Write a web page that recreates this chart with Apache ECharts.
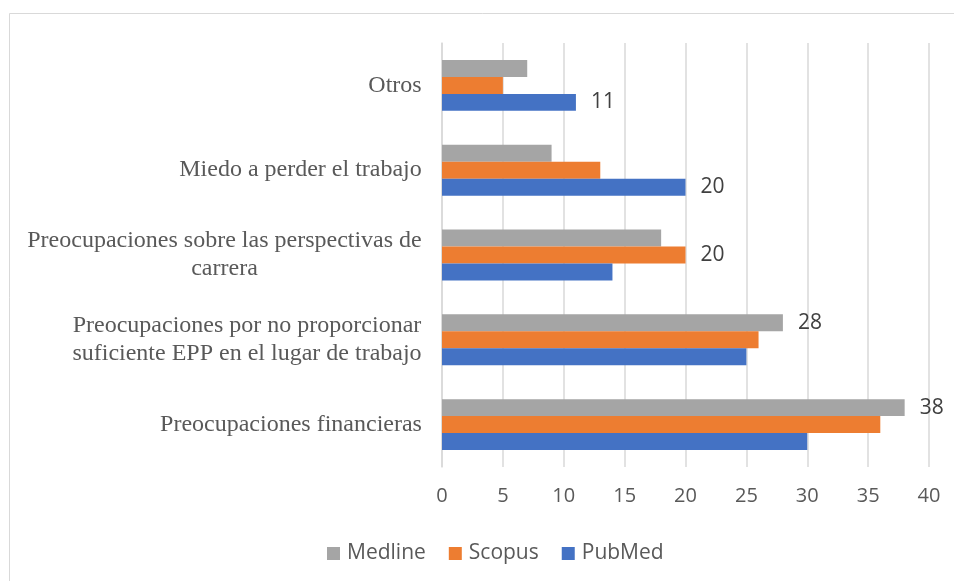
<!DOCTYPE html>
<html>
<head>
<meta charset="utf-8">
<script src="https://cdn.jsdelivr.net/npm/echarts@6/dist/echarts.min.js"></script>
<style>
html,body{margin:0;padding:0;background:#fff;}
#chart{width:954px;height:581px;}
</style>
</head>
<body>
<div id="chart"></div>
<script>
const categories = [
  'Otros',
  'Miedo a perder el trabajo',
  'Preocupaciones sobre las perspectivas de carrera',
  'Preocupaciones por no proporcionar suficiente EPP en el lugar de trabajo',
  'Preocupaciones financieras'
];
const medline = [7, 9, 18, 28, 38];
const scopus  = [5, 13, 20, 26, 36];
const pubmed  = [11, 20, 14, 25, 30];
const seriesNames = ['Medline', 'Scopus', 'PubMed'];
const xTicks = [0, 5, 10, 15, 20, 25, 30, 35, 40];

const seriesValues = [medline, scopus, pubmed];
const colors = ['#a5a5a5', '#ed7d31', '#4472c4'];

const catFont = '24px "Liberation Serif"';
const ctx = document.createElement('canvas').getContext('2d');
ctx.font = catFont;
function wrap(text, maxW) {
  const words = text.split(' ');
  const lines = [];
  let cur = '';
  words.forEach(w => {
    const t = cur ? cur + ' ' + w : w;
    if (ctx.measureText(t).width > maxW && cur) { lines.push(cur); cur = w; }
    else cur = t;
  });
  if (cur) lines.push(cur);
  return lines;
}
function blockWidth(value) {
  const lines = wrap(value, 400);
  return { lines: lines, w: Math.ceil(Math.max.apply(null, lines.map(l => ctx.measureText(l).width))) };
}
function catFormatter(value) {
  const b = blockWidth(value);
  return b.lines.map(l => '{c' + b.w + '|' + l + '}').join('\n');
}
const rich = {};
categories.forEach(c => {
  const b = blockWidth(c);
  rich['c' + b.w] = {
    width: b.w, align: 'center',
    fontFamily: 'Liberation Serif', fontSize: 24, lineHeight: 28, color: '#595959'
  };
});

const series = seriesNames.map((name, si) => ({
  name: name,
  type: 'bar',
  barGap: '0%',
  barCategoryGap: '40%',
  itemStyle: { color: colors[si] },
  data: seriesValues[si].map((v, ci) => {
    const mx = Math.max(medline[ci], scopus[ci], pubmed[ci]);
    return {
      value: v,
      label: {
        show: v === mx && seriesValues.findIndex(arr => arr[ci] === mx) === si,
        position: 'right',
        distance: 15,
        fontFamily: 'Open Sans',
        fontSize: 21,
        color: '#404040'
      }
    };
  })
}));

const chart = echarts.init(document.getElementById('chart'));
chart.setOption({
  animation: false,
  backgroundColor: '#fff',
  graphic: [{
    type: 'rect',
    shape: { x: 9.5, y: 13.5, width: 1000, height: 1000 },
    style: { fill: 'none', stroke: '#d9d9d9', lineWidth: 1 },
    silent: true
  }],
  legend: {
    data: seriesNames,
    left: 322,
    top: 538,
    icon: 'rect',
    itemWidth: 13,
    itemHeight: 13,
    itemGap: 23,
    textStyle: { fontFamily: 'Open Sans', fontSize: 21, color: '#595959', padding: [0, 0, 0, 2] }
  },
  grid: { left: 442, right: 25, top: 43, bottom: 114 },
  xAxis: {
    type: 'value',
    min: xTicks[0],
    max: xTicks[xTicks.length - 1],
    interval: xTicks[1] - xTicks[0],
    axisLine: { show: false },
    axisTick: { show: false },
    splitLine: { lineStyle: { color: '#d9d9d9', width: 1.5 } },
    axisLabel: { margin: 19, fontFamily: 'Open Sans', fontSize: 20, color: '#595959' }
  },
  yAxis: {
    type: 'category',
    inverse: true,
    data: categories,
    axisLine: { show: true, lineStyle: { color: '#d9d9d9', width: 1.5 } },
    axisTick: { show: false },
    axisLabel: { margin: 20, formatter: catFormatter, rich: rich }
  },
  series: series
});
</script>
</body>
</html>
